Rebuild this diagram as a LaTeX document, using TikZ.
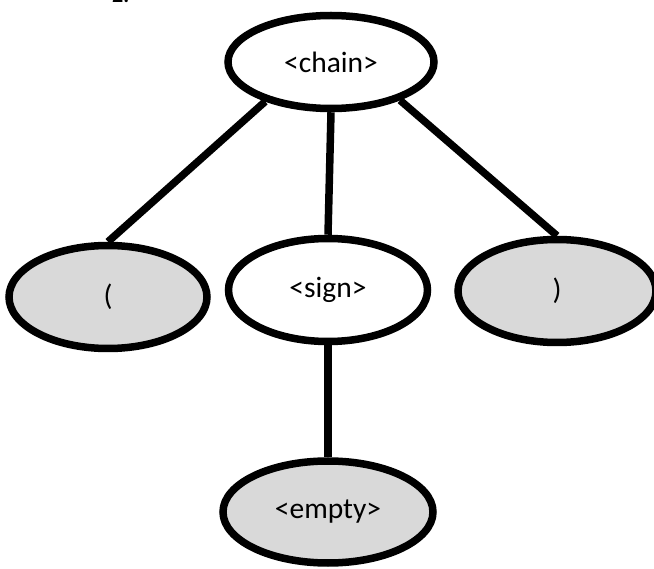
\documentclass[tikz,border=0pt]{standalone}
\usepackage{fontspec}
\setmainfont{Carlito}
\usetikzlibrary{shapes.geometric}
\begin{document}
\begin{tikzpicture}[x=1pt, y=-1pt,
  treenode/.style={ellipse, draw=black, line width=7.5pt, inner sep=0pt,
    font=\fontsize{29.5}{33}\selectfont},
  nonterm/.style={treenode, fill=white},
  term/.style={treenode, fill=black!15},
  edge/.style={line width=7.5pt}]
  \useasboundingbox (0,0) rectangle (654,569);
  \clip (0,0) rectangle (654,569);
  % item number, mostly above the visible area
  \node[anchor=base west, inner sep=0pt, font=\bfseries\fontsize{22}{26}\selectfont] (num) at (112,2.5) {2.};
  % tree nodes
  \node[nonterm, minimum width=206pt, minimum height=93pt] (chain) at (331,62) {<chain>};
  \node[term, minimum width=198pt, minimum height=103pt] (lpar) at (108,297) {(};
  \node[nonterm, minimum width=199pt, minimum height=103pt] (sign) at (328,290) {<sign>};
  \node[term, minimum width=198pt, minimum height=103pt] (rpar) at (557,291) {)};
  \node[term, minimum width=210pt, minimum height=102pt] (empty) at (328,512) {<empty>};
  % branches
  \draw[edge] (chain.211) -- (lpar.north);
  \draw[edge] (chain.south) -- (sign.north);
  \draw[edge] (chain.331) -- (rpar.north);
  \draw[edge] (sign.south) -- (empty.north);
\end{tikzpicture}
\end{document}
